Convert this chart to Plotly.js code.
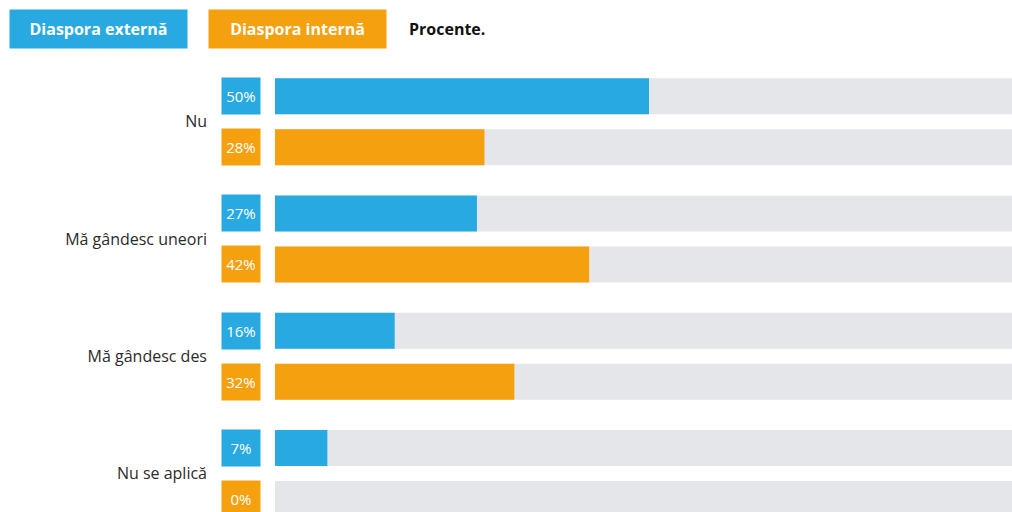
<!DOCTYPE html>
<html>
<head>
<meta charset="utf-8">
<script src="https://cdn.plot.ly/plotly-3.0.1.min.js"></script>
<style>html,body{margin:0;padding:0;background:#fff;}#chart{width:1012px;height:512px;}</style>
</head>
<body>
<div id="chart"></div>
<script>
const categories = ["Nu", "Mă gândesc uneori", "Mă gândesc des", "Nu se aplică"];
const externa = [50, 27, 16, 7];
const interna = [28, 42, 32, 0];
const seriesNames = ["Diaspora externă", "Diaspora internă"];
const unitNote = "Procente.";
const fullScale = 100;

const BLUE = "#29a9e1", ORANGE = "#f5a00f", GRAY = "#e4e6e9";
const W = 0.307, OFF_B = -0.371, OFF_O = 0.064;
const idx = categories.map((c, i) => i);

function bar(x, color, off) {
  return {type: "bar", orientation: "h", y: idx, x: x, width: W, offset: off,
    marker: {color: color, line: {width: 0}}, hoverinfo: "skip", showlegend: false};
}

const traces = [
  bar(categories.map(() => fullScale), GRAY, OFF_B),
  bar(categories.map(() => fullScale), GRAY, OFF_O),
  bar(externa, BLUE, OFF_B),
  bar(interna, ORANGE, OFF_O)
];

const plotLeft = 275, plotW = 1012 - plotLeft, plotTop = 63, plotH = 512 - plotTop;
const boxX = (241 - plotLeft) / plotW;
const annotations = [];
function valBox(v, i, color, off) {
  annotations.push({xref: "paper", yref: "y", x: boxX, y: i + off + W / 2,
    xanchor: "center", yanchor: "middle", text: v + "%", showarrow: false,
    width: 38, height: 36, borderpad: 0, bgcolor: color,
    font: {family: "Open Sans", size: 15, color: "#ffffff"}});
}
externa.forEach((v, i) => valBox(v, i, BLUE, OFF_B));
interna.forEach((v, i) => valBox(v, i, ORANGE, OFF_O));

const legY = 1 + (plotTop - 29) / plotH;
function legBox(text, cx, color) {
  annotations.push({xref: "paper", yref: "paper", x: (cx - plotLeft) / plotW, y: legY,
    xanchor: "center", yanchor: "middle", text: text, showarrow: false,
    width: 177, height: 38, borderpad: 0, bgcolor: color,
    font: {family: "Open Sans", size: 16, color: "#ffffff", weight: "bold"}});
}
legBox(seriesNames[0], 98.5, BLUE);
legBox(seriesNames[1], 297, ORANGE);
annotations.push({xref: "paper", yref: "paper", x: (407 - plotLeft) / plotW, y: legY,
  xanchor: "left", yanchor: "middle", text: unitNote, showarrow: false,
  font: {family: "Open Sans", size: 16, color: "#111111", weight: "bold"}});

const layout = {
  width: 1012, height: 512,
  margin: {l: plotLeft, r: 0, t: plotTop, b: 0, pad: 0},
  paper_bgcolor: "#ffffff", plot_bgcolor: "#ffffff",
  barmode: "overlay",
  showlegend: false,
  xaxis: {range: [0, plotW / 7.48], visible: false, fixedrange: true},
  yaxis: {
    tickmode: "array", tickvals: idx, ticktext: categories,
    range: [plotH / 117.3 - 0.5, -0.5],
    showgrid: false, zeroline: false, showline: false, ticks: "",
    ticklabelstandoff: 67,
    tickfont: {family: "Open Sans", size: 16, color: "#2b2b2b"}
  },
  annotations: annotations
};

Plotly.newPlot("chart", traces, layout, {displayModeBar: false, staticPlot: true});
</script>
</body>
</html>
